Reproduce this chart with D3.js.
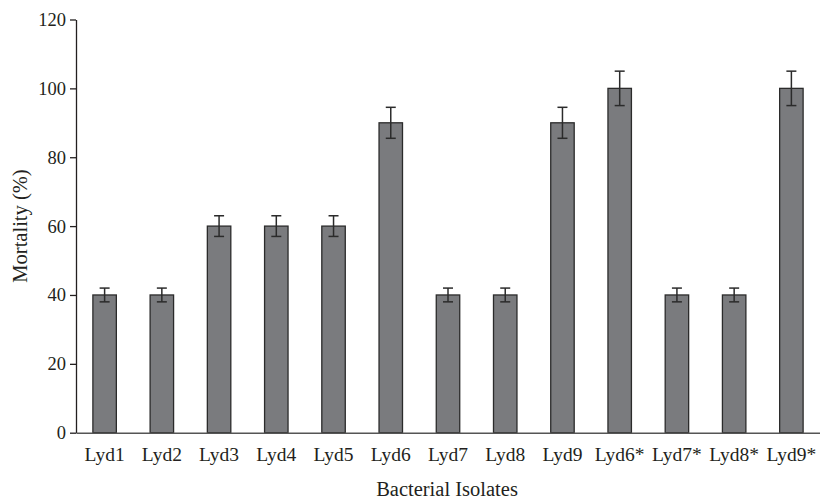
<!DOCTYPE html>
<html><head><meta charset="utf-8">
<script src="https://cdn.jsdelivr.net/npm/d3@7"></script>
<style>body{margin:0;background:#fff;} text{font-family:"Liberation Serif","DejaVu Serif",serif;fill:#231f20;}</style>
</head><body><svg id="c" width="820" height="500"></svg>
<script>
const categories = ["Lyd1","Lyd2","Lyd3","Lyd4","Lyd5","Lyd6","Lyd7","Lyd8","Lyd9","Lyd6*","Lyd7*","Lyd8*","Lyd9*"];
const mortality = [40,40,60,60,60,90,40,40,90,100,40,40,100];
const errors = [2,2,3,3,3,4.5,2,2,4.5,5,2,2,5];
const yTicks = [0,20,40,60,80,100,120];

const svg = d3.select("#c");
const x = d3.scaleBand().domain(categories).range([76,820]).paddingInner(0.59).paddingOuter(0.295);
const y = d3.scaleLinear().domain([0,120]).range([432.7,19.5]);

// bars
svg.append("g").selectAll("rect").data(categories).join("rect")
  .attr("x", d=>x(d)).attr("width", x.bandwidth())
  .attr("y", (d,i)=>y(mortality[i])).attr("height", (d,i)=>y(0)-y(mortality[i]))
  .attr("fill","#7a7b7e").attr("stroke","#2b2b2b").attr("stroke-width",1.3);

// error bars
const eg = svg.append("g").attr("stroke","#2b2b2b").attr("stroke-width",1.5);
categories.forEach((c,i)=>{
  const cx = x(c)+x.bandwidth()/2, hi=y(mortality[i]+errors[i]), lo=y(mortality[i]-errors[i]);
  eg.append("line").attr("x1",cx).attr("x2",cx).attr("y1",hi).attr("y2",lo);
  eg.append("line").attr("x1",cx-5).attr("x2",cx+5).attr("y1",hi).attr("y2",hi);
  eg.append("line").attr("x1",cx-5).attr("x2",cx+5).attr("y1",lo).attr("y2",lo);
});

// y axis
const ya = svg.append("g").attr("transform","translate(76,0)")
  .call(d3.axisLeft(y).tickValues(yTicks).tickSize(6).tickPadding(4).tickSizeOuter(0));
ya.select(".domain").attr("stroke","#231f20").attr("stroke-width",1.3);
ya.selectAll(".tick line").attr("stroke","#231f20").attr("stroke-width",1.3);
ya.selectAll("text").attr("font-size",18.5).attr("fill","#231f20");

// x axis
const xa = svg.append("g").attr("transform","translate(0,432.7)")
  .call(d3.axisBottom(x).tickSize(0).tickPadding(14));
xa.select(".domain").attr("stroke","#555").attr("stroke-width",1.5);
xa.selectAll("text").attr("font-size",19.5).attr("fill","#231f20");

svg.append("text").attr("x",447).attr("y",496).attr("text-anchor","middle").attr("font-size",20.5).text("Bacterial Isolates");
svg.append("text").attr("transform","translate(27,226) rotate(-90)").attr("text-anchor","middle").attr("font-size",20.5).text("Mortality (%)");
</script></body></html>
